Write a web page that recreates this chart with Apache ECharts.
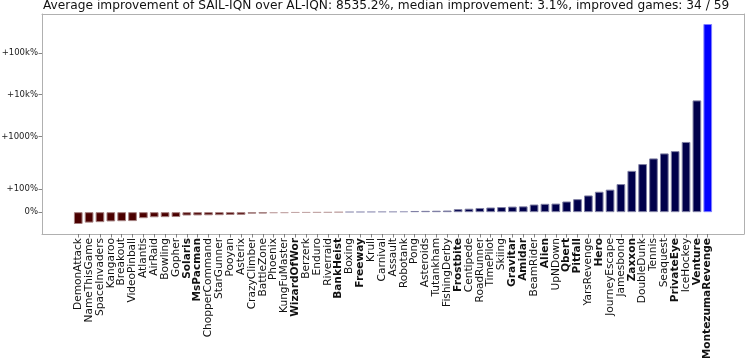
<!DOCTYPE html>
<html>
<head>
<meta charset="utf-8">
<script src="https://cdn.jsdelivr.net/npm/echarts@6/dist/echarts.min.js"></script>
<style>
  html, body { margin: 0; padding: 0; background: #fff; }
  #chart { width: 748px; height: 358px; }
</style>
</head>
<body>
<div id="chart"></div>
<script>
const games = [
  'DemonAttack', 'NameThisGame', 'SpaceInvaders', 'Kangaroo', 'Breakout', 'VideoPinball',
  'Atlantis', 'AirRaid', 'Bowling', 'Gopher', 'Solaris', 'MsPacman', 'ChopperCommand',
  'StarGunner', 'Pooyan', 'Asterix', 'CrazyClimber', 'BattleZone', 'Phoenix', 'KungFuMaster',
  'WizardOfWor', 'Berzerk', 'Enduro', 'Riverraid', 'BankHeist', 'Boxing', 'Freeway', 'Krull',
  'Carnival', 'Assault', 'Robotank', 'Pong', 'Asteroids', 'Tutankham', 'FishingDerby',
  'Frostbite', 'Centipede', 'RoadRunner', 'TimePilot', 'Skiing', 'Gravitar', 'Amidar',
  'BeamRider', 'Alien', 'UpNDown', 'Qbert', 'Pitfall', 'YarsRevenge', 'Hero', 'JourneyEscape',
  'Jamesbond', 'Zaxxon', 'DoubleDunk', 'Tennis', 'Seaquest', 'PrivateEye', 'IceHockey',
  'Venture', 'MontezumaRevenge'
];

// improvement in percent
const improvements = [
  -51, -45, -43, -40, -39, -38.5,
  -26, -22, -21.5, -21, -14.5, -14, -13.5,
  -13, -12, -11.5, -6.5, -6, -4.5, -4.2,
  -2.6, -2.3, -2, -1.6, -0.2, 1.2, 1.6, 2.1,
  2.9, 3.1, 3.9, 5.1, 5.6, 6.2, 7,
  13, 15, 18, 20, 22, 24, 25,
  33, 36, 37, 46, 56, 72, 88, 97,
  121, 178, 219, 299, 394, 447, 741,
  7310, 492000
];

const boldGames = [
  'Solaris', 'MsPacman', 'WizardOfWor', 'BankHeist', 'Freeway', 'Frostbite', 'Gravitar',
  'Amidar', 'Alien', 'Qbert', 'Pitfall', 'Hero', 'Zaxxon', 'PrivateEye', 'Venture',
  'MontezumaRevenge'
];

const yTickValues = [0, 100, 1000, 10000, 100000];
const yTickLabels = ['0%', '+100%', '+1000%', '+10k%', '+100k%'];

// symlog scale, like matplotlib's
const LINTHRESH = 200;
const LINSCALE = 1 / (1 - 1 / 10);
function symlog(v) {
  const a = Math.abs(v);
  if (a <= LINTHRESH) return v / LINTHRESH * LINSCALE;
  return Math.sign(v) * (LINSCALE + Math.log10(a / LINTHRESH));
}

const GRID = { left: 42, right: 4, top: 14, bottom: 124 };
const plotWidth = 748 - GRID.left - GRID.right;
const n = games.length;
const xMin = -0.4 - (n - 1 + 0.8) * 0.05;
const xMax = n - 1 + 0.4 + (n - 1 + 0.8) * 0.05;

const uVals = improvements.map(symlog);
const uMinData = Math.min(0, ...uVals);
const uMaxData = Math.max(0, ...uVals);
const uPad = (uMaxData - uMinData) * 0.05;

const maxIdx = improvements.indexOf(Math.max(...improvements));

function barColors(v, i) {
  if (i === maxIdx) return { color: '#0000ff', borderColor: '#7f7fff' };
  const strong = Math.abs(v) >= 5;
  if (v >= 0) {
    return strong ? { color: '#00004b', borderColor: '#8080a5' }
                  : { color: '#8080a5', borderColor: '#a8a8c4' };
  }
  return strong ? { color: '#4b0000', borderColor: '#a58080' }
                : { color: '#a58080', borderColor: '#c4a8a8' };
}

const barData = improvements.map((v, i) => {
  const c = barColors(v, i);
  return {
    value: [i, symlog(v)],
    itemStyle: { color: c.color, borderColor: c.borderColor, borderWidth: 1 }
  };
});

const spine = { show: true, onZero: false, lineStyle: { color: '#b0b0b0', width: 1 } };
const frameAxis = {
  splitLine: { show: false },
  axisLine: spine,
  axisTick: { show: false },
  axisLabel: { show: false }
};

const chart = echarts.init(document.getElementById('chart'));
chart.setOption({
  animation: false,
  textStyle: { fontFamily: 'DejaVu Sans' },
  title: {
    text: 'Average improvement of SAIL-IQN over AL-IQN: 8535.2%, median improvement: 3.1%, improved games: 34 / 59',
    left: 43,
    top: 0,
    padding: 0,
    textStyle: { fontSize: 12.2, fontWeight: 'normal', color: '#111', fontFamily: 'DejaVu Sans' }
  },
  grid: {
    left: GRID.left, right: GRID.right, top: GRID.top, bottom: GRID.bottom,
    containLabel: false,
    outerBoundsMode: 'none'
  },
  xAxis: [{
    type: 'value',
    position: 'bottom',
    min: xMin,
    max: xMax,
    splitLine: { show: false },
    axisLine: spine,
    axisTick: {
      show: true, length: 3.5, inside: false,
      lineStyle: { color: '#666', width: 0.8 },
      customValues: games.map((g, i) => i)
    },
    axisLabel: {
      show: true,
      rotate: 90,
      margin: 4,
      fontSize: 10.6,
      color: '#111',
      fontFamily: 'DejaVu Sans',
      customValues: games.map((g, i) => i),
      formatter: function (value) {
        const name = games[Math.round(value)];
        return boldGames.includes(name) ? '{b|' + name + '}' : '{n|' + name + '}';
      },
      rich: {
        b: { fontWeight: 'bold', fontSize: 10.6, color: '#111', fontFamily: 'DejaVu Sans' },
        n: { fontWeight: 'normal', fontSize: 10.6, color: '#111', fontFamily: 'DejaVu Sans' }
      }
    }
  }, Object.assign({ type: 'value', position: 'top', min: xMin, max: xMax }, frameAxis)],
  yAxis: [{
    type: 'value',
    position: 'left',
    min: uMinData - uPad,
    max: uMaxData + uPad,
    splitLine: { show: false },
    axisLine: spine,
    axisTick: {
      show: true, length: 3.5,
      lineStyle: { color: '#666', width: 0.8 },
      customValues: yTickValues.map(symlog)
    },
    axisLabel: {
      show: true,
      margin: 4,
      fontSize: 8.5,
      color: '#222',
      fontFamily: 'DejaVu Sans',
      customValues: yTickValues.map(symlog),
      formatter: function (value) {
        let best = 0;
        yTickValues.forEach((t, i) => {
          if (Math.abs(symlog(t) - value) < Math.abs(symlog(yTickValues[best]) - value)) best = i;
        });
        return yTickLabels[best];
      }
    }
  }, Object.assign({
    type: 'value', position: 'right', min: uMinData - uPad, max: uMaxData + uPad
  }, frameAxis)],
  series: [{
    type: 'bar',
    xAxisIndex: 0,
    yAxisIndex: 0,
    barWidth: 0.8 * plotWidth / (xMax - xMin),
    data: barData
  }]
});
</script>
</body>
</html>
